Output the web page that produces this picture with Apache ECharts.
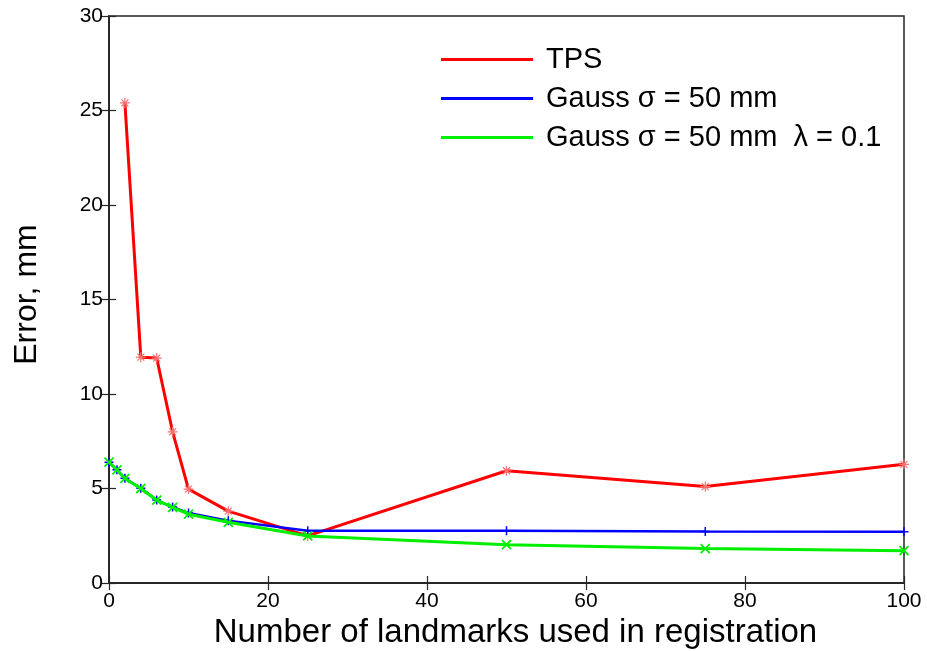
<!DOCTYPE html>
<html>
<head>
<meta charset="utf-8">
<script src="https://cdn.jsdelivr.net/npm/echarts@6/dist/echarts.min.js"></script>
<style>html,body{margin:0;padding:0;background:#fff}#c{width:927px;height:651px}</style>
</head>
<body>
<div id="c"></div>
<script>
const tpsX = [2, 4, 6, 8, 10, 15, 25, 50, 75, 100];
const tpsY = [25.4, 11.95, 11.9, 8.0, 4.97, 3.8, 2.49, 5.94, 5.1, 6.28];
const gaussX = [0, 1, 2, 4, 6, 8, 10, 15, 25, 50, 75, 100];
const gaussY = [6.39, 5.99, 5.54, 5.01, 4.39, 4.02, 3.7, 3.3, 2.77, 2.77, 2.73, 2.71];
const gaussLX = [0, 1, 2, 4, 6, 8, 10, 15, 25, 50, 75, 100];
const gaussLY = [6.39, 5.98, 5.53, 5.0, 4.38, 4.0, 3.64, 3.21, 2.49, 2.03, 1.82, 1.71];
const seriesNames = ['TPS', 'Gauss σ = 50 mm', 'Gauss σ = 50 mm  λ = 0.1'];
const xTitle = 'Number of landmarks used in registration';
const yTitle = 'Error, mm';

const zip = (xs, ys) => xs.map((x, i) => [x, ys[i]]);
const FONT = '"Liberation Sans", Arial, sans-serif';
const AX = '#262626';

const chart = echarts.init(document.getElementById('c'), null, {renderer: 'canvas'});
const mk = (name, xs, ys, color, mcolor, symbol, lw, ms, mw, z) => ({
  name, type: 'line', data: zip(xs, ys), z,
  symbol, symbolSize: ms, showSymbol: true,
  lineStyle: {color, width: lw},
  itemStyle: {color, borderColor: mcolor, borderWidth: mw},
  emphasis: {disabled: true}
});
const tickStyle = {show: true, inside: true, length: 7, lineStyle: {color: AX, width: 1.2}};
const lineStyleAx = {show: true, lineStyle: {color: AX, width: 1.5}};
chart.setOption({
  animation: false,
  grid: {left: 109, right: 23, top: 16, bottom: 68, show: true, borderColor: AX, borderWidth: 1.5, containLabel: false, outerBoundsMode: 'none'},
  legend: {
    orient: 'vertical', left: 436, top: 40,
    icon: 'rect', itemWidth: 92, itemHeight: 3, itemGap: 10,
    itemStyle: {borderWidth: 0},
    textStyle: {fontFamily: FONT, fontSize: 29, color: '#000', lineHeight: 29, padding: [0, 0, 0, 8]},
    data: seriesNames
  },
  xAxis: [{
    type: 'value', min: 0, max: 100, interval: 20,
    name: xTitle, nameLocation: 'middle', nameGap: 30,
    nameTextStyle: {fontFamily: FONT, fontSize: 33, color: '#000', padding: [0, 0, 0, 18]},
    axisLine: lineStyleAx, axisTick: tickStyle,
    axisLabel: {fontFamily: FONT, fontSize: 21, color: '#000', margin: 8},
    splitLine: {show: false}
  }, {
    type: 'value', min: 0, max: 100, interval: 20, position: 'top',
    axisLine: lineStyleAx, axisTick: tickStyle,
    axisLabel: {show: false}, splitLine: {show: false}
  }],
  yAxis: [{
    type: 'value', min: 0, max: 30, interval: 5,
    name: yTitle, nameLocation: 'middle', nameGap: 66,
    nameTextStyle: {fontFamily: FONT, fontSize: 32, color: '#000', padding: [0, 0, 0, 10]},
    axisLine: lineStyleAx, axisTick: tickStyle,
    axisLabel: {fontFamily: FONT, fontSize: 21, color: '#000', margin: 6},
    splitLine: {show: false}
  }, {
    type: 'value', min: 0, max: 30, interval: 5, position: 'right',
    axisLine: lineStyleAx, axisTick: tickStyle,
    axisLabel: {show: false}, splitLine: {show: false}
  }],
  series: [
    mk(seriesNames[0], tpsX, tpsY, '#ff0000', '#ff7070', 'path://M5,0L5,10M0,5L10,5M1.5,1.5L8.5,8.5M8.5,1.5L1.5,8.5', 3, 10, 1.2, 2),
    mk(seriesNames[1], gaussX, gaussY, '#0000ff', '#0000ff', 'path://M5,0L5,10M0,5L10,5', 2.5, 9, 1.5, 3),
    mk(seriesNames[2], gaussLX, gaussLY, '#00ee00', '#00ee00', 'path://M0,0L10,10M10,0L0,10', 3, 9, 1.8, 4)
  ]
});
</script>
</body>
</html>
